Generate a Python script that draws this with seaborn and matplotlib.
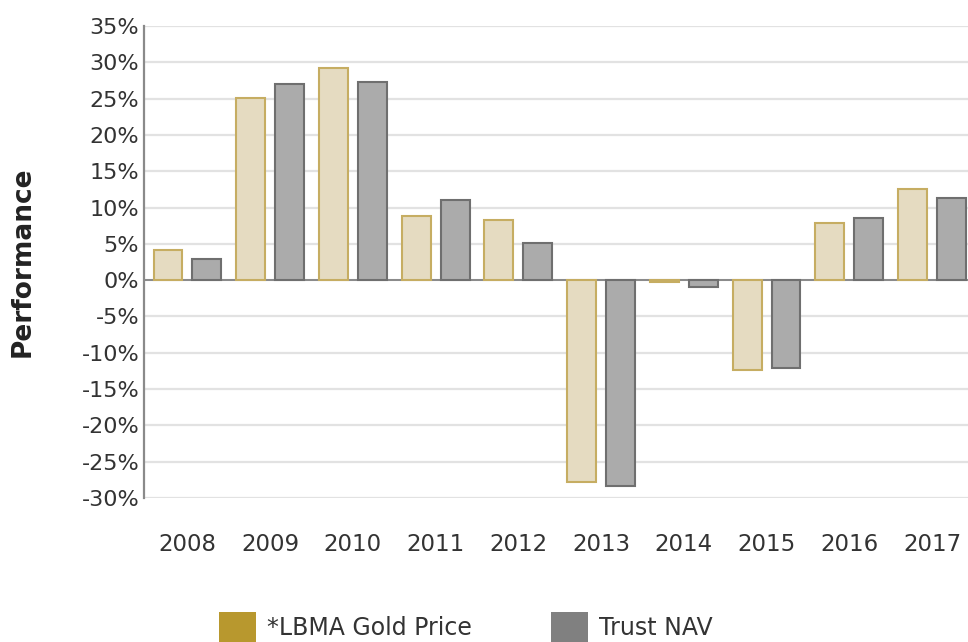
import matplotlib
matplotlib.use("Agg")
import matplotlib.pyplot as plt
import seaborn as sns
import pandas as pd
import numpy as np
from matplotlib.patches import Patch
from matplotlib.ticker import FuncFormatter, MultipleLocator

years = ["2008", "2009", "2010", "2011", "2012", "2013", "2014", "2015", "2016", "2017"]
gold_price = [4.1, 25.1, 29.2, 8.8, 8.3, -27.8, -0.2, -12.4, 7.9, 12.6]
trust_nav = [2.9, 27.0, 27.3, 11.0, 5.1, -28.4, -0.9, -12.1, 8.6, 11.3]
series_names = ["*LBMA Gold Price", "Trust NAV"]

df = pd.DataFrame({
    "Year": years * 2,
    "Performance": gold_price + trust_nav,
    "Series": [series_names[0]] * len(years) + [series_names[1]] * len(years),
})

sns.set_style("white")
plt.rcParams["font.family"] = ["DejaVu Sans"]

fig = plt.figure(figsize=(9.68, 6.42), dpi=100)
W, H = 968, 642
ax = fig.add_axes([144 / W, 1 - 498 / H, (968 - 144) / W, (498 - 26) / H])

fills = ["#ebdebb", "#ababab"]
edges = ["#c6ad62", "#6f6f6f"]

sns.barplot(data=df, x="Year", y="Performance", hue="Series", order=years,
            hue_order=series_names, palette=fills, width=0.94, gap=0.255,
            ax=ax, legend=False, zorder=3)

n = len(years)
for i, p in enumerate(ax.patches):
    s = i // n
    p.set_edgecolor(edges[s])
    p.set_linewidth(1.5)

ax.set_ylim(-30, 35)
ax.set_xlim(-0.525, 9.435)
ax.yaxis.set_major_locator(MultipleLocator(5))
ax.yaxis.set_major_formatter(FuncFormatter(lambda v, _: f"{v:.0f}%"))
ax.grid(axis="y", color="#e2e2e2", linewidth=1.6, zorder=0)
ax.set_axisbelow(True)
for side in ["top", "right", "bottom"]:
    ax.spines[side].set_visible(False)
ax.spines["left"].set_color("#8a8a8a")
ax.spines["left"].set_linewidth(1.6)
ax.axhline(0, color="#7a7a7a", linewidth=1.2, zorder=2)

ax.tick_params(axis="y", labelsize=16, colors="#333333", length=0, pad=3.5)
ax.tick_params(axis="x", labelsize=16.5, colors="#333333", length=0, pad=25)
ax.set_xlabel("")
ax.set_ylabel("Performance", fontsize=19, fontweight="bold", color="#222222")
ax.yaxis.set_label_coords(-0.131, 0.5)

handles = [Patch(facecolor="#b8982e", edgecolor="none"),
           Patch(facecolor="#808080", edgecolor="none")]
fig.legend(handles, series_names, loc="center", bbox_to_anchor=(466 / W, 1 - 627 / H),
           ncol=2, frameon=False, fontsize=17, handlelength=1.57, handleheight=1.57,
           columnspacing=3.35, handletextpad=0.47, labelcolor="#333333",
           borderpad=0, borderaxespad=0)

fig.savefig("out.png", dpi=100)
